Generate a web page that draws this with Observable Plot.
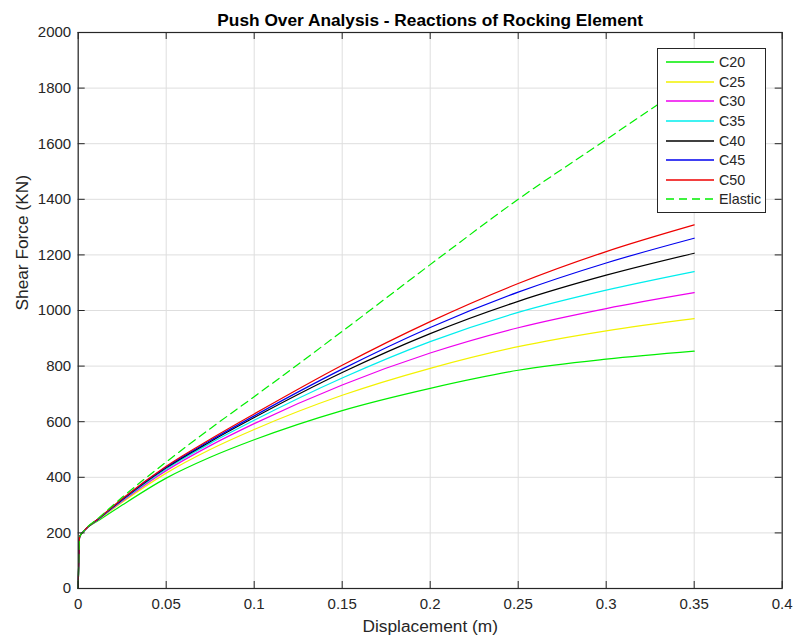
<!DOCTYPE html>
<html>
<head>
<meta charset="utf-8">
<script src="https://cdn.jsdelivr.net/npm/d3@7"></script>
<script src="https://cdn.jsdelivr.net/npm/@observablehq/plot@0.6"></script>
<style>
  body { margin: 0; background: #fff; font-family: "Liberation Sans", Arial, Helvetica, sans-serif; }
  #wrap { position: relative; width: 795px; height: 638px; }
  #legend { position: absolute; left: 657px; top: 48px; width: 109px; height: 165px; box-sizing: border-box;
            border: 1px solid #262626; background: #fff; padding-top: 3.5px; }
  .row { height: 19.6px; display: flex; align-items: center; font-size: 14.3px; color: #262626; }
  .row svg { margin-left: 8px; margin-right: 5px; }
</style>
</head>
<body>
<div id="wrap"><div id="chart"></div><div id="legend"></div></div>
<script>
const titleText = "Push Over Analysis - Reactions of Rocking Element";
const xLabel = "Displacement (m)";
const yLabel = "Shear Force (KN)";
const xTicks = [0, 0.05, 0.1, 0.15, 0.2, 0.25, 0.3, 0.35, 0.4];
const yTicks = [0, 200, 400, 600, 800, 1000, 1200, 1400, 1600, 1800, 2000];

const displacement = [0, 0.0008, 0.003, 0.012, 0.025, 0.05, 0.075, 0.1, 0.15, 0.2, 0.25, 0.3, 0.35];
const C20 = [0, 185, 205, 246, 300, 397, 472, 535, 640, 720, 785, 825, 854];
const C25 = [0, 185, 205, 250, 310, 415, 500, 572, 695, 792, 870, 927, 971];
const C30 = [0, 185, 205, 251, 314, 424, 514, 593, 732, 847, 938, 1007, 1064];
const C35 = [0, 185, 205, 252, 317, 430, 522, 605, 757, 888, 993, 1073, 1140];
const C40 = [0, 185, 205, 253, 319, 434, 528, 615, 777, 917, 1033, 1127, 1206];
const C45 = [0, 185, 205, 253, 321, 437, 532, 621, 789, 939, 1066, 1171, 1260];
const C50 = [0, 185, 205, 254, 323, 440, 537, 628, 803, 960, 1097, 1212, 1308];
const Elastic = [0, 185, 205, 256, 328, 455, 575, 690, 925, 1165, 1400, 1615, 1830];

const seriesNames = ["C20", "C25", "C30", "C35", "C40", "C45", "C50", "Elastic"];
const seriesValues = [C20, C25, C30, C35, C40, C45, C50, Elastic];
const seriesColors = ["#00ee00", "#f2f200", "#ee00ee", "#00eeee", "#000000", "#0000ee", "#ee0000", "#00ee00"];
const seriesDash = [null, null, null, null, null, null, null, "8,5"];

const rows = [];
seriesNames.forEach((name, i) => {
  displacement.forEach((x, j) => rows.push({series: name, x, y: seriesValues[i][j]}));
});

const W = 795, H = 638;
const mL = 77.7, mR = 13.3, mT = 32, mB = 50;
const pw = W - mL - mR, ph = H - mT - mB;
const tickLen = 7;
const ink = "#262626";

const marks = [
  Plot.ruleX(xTicks, {x: d => d, stroke: "#dedede", strokeWidth: 1}),
  Plot.ruleY(yTicks, {y: d => d, stroke: "#dedede", strokeWidth: 1}),
];
seriesNames.forEach((name, i) => {
  marks.push(Plot.line(rows.filter(r => r.series === name), {
    x: "x", y: "y", stroke: seriesColors[i], strokeWidth: 1.2,
    strokeDasharray: seriesDash[i] || undefined, curve: "monotone-x"
  }));
});
marks.push(
  Plot.tickX(xTicks, {x: d => d, stroke: ink, insetTop: ph - tickLen}),
  Plot.tickX(xTicks, {x: d => d, stroke: ink, insetBottom: ph - tickLen}),
  Plot.tickY(yTicks, {y: d => d, stroke: ink, insetRight: pw - tickLen}),
  Plot.tickY(yTicks, {y: d => d, stroke: ink, insetLeft: pw - tickLen}),
  Plot.frame({stroke: ink, strokeWidth: 1.2}),
  Plot.axisX({ticks: xTicks, tickSize: 0, tickPadding: 10, fontSize: 15, label: null, tickFormat: d => String(d), color: ink}),
  Plot.axisY({ticks: yTicks, tickSize: 0, tickPadding: 7, fontSize: 15, label: null, tickFormat: d => String(d), color: ink}),
  Plot.text([titleText], {text: d => d, frameAnchor: "top", lineAnchor: "middle", dy: -12, fontSize: 17.3, fontWeight: "bold", fill: "#000"}),
  Plot.text([xLabel], {text: d => d, frameAnchor: "bottom", dy: 43, fontSize: 17.3, fill: ink}),
  Plot.text([yLabel], {text: d => d, frameAnchor: "left", rotate: -90, dx: -56, fontSize: 17.3, fill: ink})
);

const chart = Plot.plot({
  width: W, height: H,
  marginLeft: mL, marginRight: mR, marginTop: mT, marginBottom: mB,
  x: {domain: [0, 0.4]},
  y: {domain: [0, 2000]},
  style: {fontFamily: '"Liberation Sans", Arial, Helvetica, sans-serif', background: "#fff"},
  marks
});
document.getElementById("chart").appendChild(chart);

const legend = document.getElementById("legend");
seriesNames.forEach((name, i) => {
  const row = document.createElement("div");
  row.className = "row";
  const dash = seriesDash[i] ? ` stroke-dasharray="${seriesDash[i]}"` : "";
  row.innerHTML = `<svg width="48" height="4"><line x1="0" y1="2" x2="48" y2="2" stroke="${seriesColors[i]}" stroke-width="1.3"${dash}/></svg><span>${name}</span>`;
  legend.appendChild(row);
});
</script>
</body>
</html>
